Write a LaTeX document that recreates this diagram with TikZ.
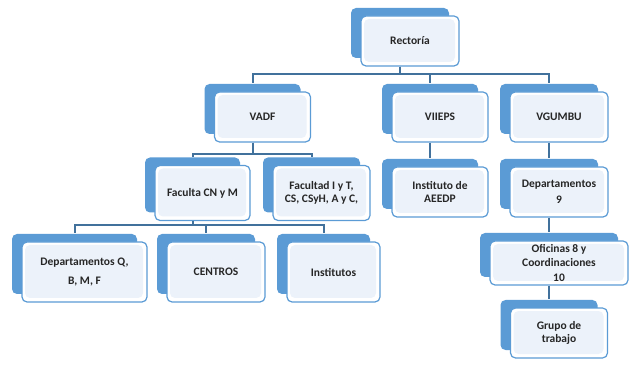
\documentclass[tikz,border=0pt]{standalone}
\usepackage{fontspec}
\setmainfont{Carlito}
\usetikzlibrary{shadows}
\definecolor{backblue}{RGB}{91,155,213}
\definecolor{lineblue}{RGB}{65,113,156}
\definecolor{paleblue}{RGB}{236,242,250}
\tikzset{
    %Define style for boxes
    block/.style={
           rectangle,
           rounded corners=5pt,
           draw=backblue,
           line width=1.2pt,
           fill=white,
           text=black!85,
           minimum width=96pt,
           minimum height=50pt,
           align=center,
           font=\bfseries\fontsize{11.5}{13.5}\selectfont,
           copy shadow={shadow xshift=-10pt, shadow yshift=8pt, fill=backblue, draw=none},
           path picture={\fill[paleblue]
               ([shift={(3pt,-3pt)}]path picture bounding box.north west) rectangle
               ([shift={(-4pt,4pt)}]path picture bounding box.south east);}},
    % Define connector style
    link/.style={
           draw=lineblue,
           line width=2pt}
}

\begin{document}
\begin{tikzpicture}[node distance = 76pt]
    \useasboundingbox (0,0) rectangle (637pt,-371pt);
    \node [block, minimum width=98pt] (rect) at (410pt,-41pt) {Rectoría};
    \node [block, below of=rect, xshift=-147.5pt] (vadf) {VADF};
    \node [block, below of=rect, xshift=30pt] (viieps) {VIIEPS};
    \node [block, below of=rect, xshift=149pt, minimum width=98pt] (vgumbu) {VGUMBU};
    \node [block, below of=vadf, xshift=-60pt, minimum height=55pt, minimum width=95pt] (fcnm) {Faculta CN y M};
    \node [block, below of=vadf, xshift=59pt, minimum height=55pt, minimum width=97pt] (fiyt) {Facultad I y T,\\ CS, CSyH, A y C,};
    \node [block, below of=viieps, yshift=1pt] (aeedp) {Instituto de\\ AEEDP};
    \node [block, below of=vgumbu, yshift=1pt, minimum width=98pt] (dep9) {Departamentos\\[3pt] 9};
    \node [block, below of=fcnm, xshift=-118pt, yshift=-3pt, minimum width=125pt, minimum height=60pt] (depq) {Departamentos Q,\\[5pt] B, M, F};
    \node [block, below of=fcnm, xshift=13.5pt, yshift=-3pt, minimum width=98pt, minimum height=60pt] (centros) {CENTROS};
    \node [block, below of=fiyt, xshift=12pt, yshift=-3pt, minimum width=93pt, minimum height=60pt] (inst) {Institutos};
    \node [block, below of=dep9, xshift=0pt, yshift=5pt, minimum width=138pt, minimum height=44pt] (ofic) {Oficinas 8 y\\ Coordinaciones\\[2pt] 10};
    \node [block, below of=ofic, node distance=70pt, xshift=0pt, minimum width=97pt] (grupo) {Grupo de\\ trabajo};

    % Rectoria to vice-rectorates
    \draw [link] ([xshift=-10pt]rect.south) -- ++(0,-7pt) -| ([shift={(-10pt,8pt)}]vadf.north);
    \draw [link] ([xshift=-10pt]rect.south) -- ++(0,-7pt) -| ([shift={(-10pt,8pt)}]viieps.north);
    \draw [link] ([xshift=-10pt]rect.south) -- ++(0,-7pt) -| ([shift={(-10pt,8pt)}]vgumbu.north);
    % VADF branch
    \draw [link] ([xshift=-10pt]vadf.south) -- ++(0,-11pt) -| ([shift={(-10pt,8pt)}]fcnm.north);
    \draw [link] ([xshift=-10pt]vadf.south) -- ++(0,-11pt) -| ([shift={(-10pt,8pt)}]fiyt.north);
    \draw [link] ([xshift=-10pt]fcnm.south) -- ++(0,-4pt) -| ([shift={(-10pt,8pt)}]depq.north);
    \draw [link] ([xshift=-10pt]fcnm.south) -- ++(0,-4pt) -| ([shift={(-10pt,8pt)}]centros.north);
    \draw [link] ([xshift=-10pt]fcnm.south) -- ++(0,-4pt) -| ([shift={(-10pt,8pt)}]inst.north);
    % VIIEPS and VGUMBU branches
    \draw [link] ([xshift=-10pt]viieps.south) -- ([shift={(-10pt,8pt)}]aeedp.north);
    \draw [link] ([xshift=-10pt]vgumbu.south) -- ([shift={(-10pt,8pt)}]dep9.north);
    \draw [link] ([xshift=-10pt]dep9.south) -- ([shift={(-10pt,8pt)}]ofic.north);
    \draw [link] ([xshift=-10pt]ofic.south) -- ([shift={(-10pt,8pt)}]grupo.north);
\end{tikzpicture}
\end{document}
